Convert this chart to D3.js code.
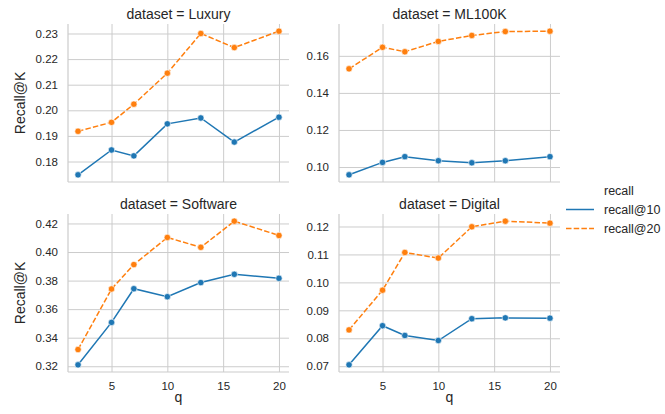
<!DOCTYPE html>
<html>
<head>
<meta charset="utf-8">
<script src="https://cdn.jsdelivr.net/npm/d3@7"></script>
<style>
  body { margin: 0; background: #fff; }
  text { font-family: "Liberation Sans", Arial, sans-serif; fill: #262626; }
</style>
</head>
<body>
<svg id="chart" width="665" height="414"></svg>
<script>
// x values (q)
const qValues = [2, 5, 7, 10, 13, 16, 20];
const xTicks = [5, 10, 15, 20];

const datasets = ['Luxury', 'ML100K', 'Software', 'Digital'];
const seriesNames = ['recall@10', 'recall@20'];

// recall values per dataset
const luxury10 = [0.1748, 0.1845, 0.1822, 0.1947, 0.1970, 0.1876, 0.1973];
const luxury20 = [0.1918, 0.1953, 0.2024, 0.2145, 0.2300, 0.2245, 0.2309];
const ml100k10 = [0.0958, 0.1025, 0.1056, 0.1034, 0.1023, 0.1034, 0.1056];
const ml100k20 = [0.1530, 0.1646, 0.1622, 0.1678, 0.1710, 0.1731, 0.1733];
const software10 = [0.3210, 0.3507, 0.3743, 0.3687, 0.3786, 0.3844, 0.3816];
const software20 = [0.3317, 0.3741, 0.3912, 0.4102, 0.4033, 0.4216, 0.4116];
const digital10 = [0.0705, 0.0845, 0.0810, 0.0792, 0.0870, 0.0873, 0.0872];
const digital20 = [0.0830, 0.0972, 0.1107, 0.1087, 0.1199, 0.1219, 0.1212];

// y tick labels per panel
const luxuryTicks = [0.18, 0.19, 0.20, 0.21, 0.22, 0.23];
const ml100kTicks = [0.10, 0.12, 0.14, 0.16];
const softwareTicks = [0.32, 0.34, 0.36, 0.38, 0.40, 0.42];
const digitalTicks = [0.07, 0.08, 0.09, 0.10, 0.11, 0.12];

const panelData = {
    'Luxury': { values: [luxury10, luxury20], ticks: luxuryTicks },
    'ML100K': { values: [ml100k10, ml100k20], ticks: ml100kTicks },
    'Software': { values: [software10, software20], ticks: softwareTicks },
    'Digital': { values: [digital10, digital20], ticks: digitalTicks }
};

const colors = { 'recall@10': '#1f77b4', 'recall@20': '#ff7f0e' };
const dashes = { 'recall@10': null, 'recall@20': '5.5,2.2' };

const svg = d3.select("#chart");
const gridColor = "#cccccc";

// panel layout
const colX = [68, 339];
const rowY = [24, 214];
const panelW = 221;
const panelH = 158;

function pad(ext) {
    const m = (ext[1] - ext[0]) * 0.05;
    return [ext[0] - m, ext[1] + m];
}

const xDomain = pad(d3.extent(qValues));

datasets.forEach((name, i) => {
    const col = i % 2, row = Math.floor(i / 2);
    const g = svg.append("g").attr("transform", `translate(${colX[col]},${rowY[row]})`);
    const info = panelData[name];

    const x = d3.scaleLinear().domain(xDomain).range([0, panelW]);
    const allVals = info.values.flat();
    const y = d3.scaleLinear().domain(pad(d3.extent(allVals))).range([panelH, 0]);

    // grid
    g.append("g")
        .call(d3.axisLeft(y).tickValues(info.ticks).tickSize(-panelW).tickFormat(""))
        .call(a => a.select(".domain").remove())
        .call(a => a.selectAll("line").attr("stroke", gridColor).attr("stroke-width", 1));
    g.append("g")
        .attr("transform", `translate(0,${panelH})`)
        .call(d3.axisBottom(x).tickValues(xTicks).tickSize(-panelH).tickFormat(""))
        .call(a => a.select(".domain").remove())
        .call(a => a.selectAll("line").attr("stroke", gridColor).attr("stroke-width", 1));

    // spines
    g.append("line").attr("x1", 0).attr("x2", 0).attr("y1", 0).attr("y2", panelH)
        .attr("stroke", gridColor).attr("stroke-width", 1.2);
    g.append("line").attr("x1", 0).attr("x2", panelW).attr("y1", panelH).attr("y2", panelH)
        .attr("stroke", gridColor).attr("stroke-width", 1.2);

    // y tick labels
    const yAxis = g.append("g")
        .call(d3.axisLeft(y).tickValues(info.ticks).tickSize(0).tickPadding(10).tickFormat(d3.format(".2f")));
    yAxis.select(".domain").remove();
    yAxis.selectAll("text").style("font-size", "11.5px").attr("fill", "#262626");

    // x tick labels only on bottom row
    if (row === 1) {
        const xAxis = g.append("g")
            .attr("transform", `translate(0,${panelH})`)
            .call(d3.axisBottom(x).tickValues(xTicks).tickSize(0).tickPadding(10));
        xAxis.select(".domain").remove();
        xAxis.selectAll("text").style("font-size", "11.5px").attr("fill", "#262626");

        g.append("text")
            .attr("x", panelW / 2)
            .attr("y", panelH + 30)
            .attr("text-anchor", "middle")
            .style("font-size", "14px")
            .text("q");
    }

    if (col === 0) {
        g.append("text")
            .attr("transform", `translate(${-43},${panelH / 2}) rotate(-90)`)
            .attr("text-anchor", "middle")
            .style("font-size", "14px")
            .text("Recall@K");
    }

    // title
    g.append("text")
        .attr("x", panelW / 2)
        .attr("y", -5)
        .attr("text-anchor", "middle")
        .style("font-size", "14px")
        .text(`dataset = ${name}`);

    // series
    seriesNames.forEach((s, si) => {
        const pts = qValues.map((q, k) => ({ q: q, v: info.values[si][k] }));
        g.append("path")
            .datum(pts)
            .attr("fill", "none")
            .attr("stroke", colors[s])
            .attr("stroke-width", 1.5)
            .attr("stroke-dasharray", dashes[s])
            .attr("d", d3.line().x(d => x(d.q)).y(d => y(d.v)));
        g.selectAll(null)
            .data(pts)
            .enter()
            .append("circle")
            .attr("cx", d => x(d.q))
            .attr("cy", d => y(d.v))
            .attr("r", 3.2)
            .attr("fill", colors[s])
            .attr("stroke", "#fff")
            .attr("stroke-width", 0.6);
    });
});

// legend
const legend = svg.append("g").attr("transform", "translate(566,0)");
legend.append("text").attr("x", 38).attr("y", 195).style("font-size", "12.5px").text("recall");
seriesNames.forEach((s, i) => {
    const ly = 209.5 + i * 19;
    legend.append("line")
        .attr("x1", 0).attr("x2", 28).attr("y1", ly).attr("y2", ly)
        .attr("stroke", colors[s]).attr("stroke-width", 1.5)
        .attr("stroke-dasharray", dashes[s]);
    legend.append("text").attr("x", 38).attr("y", ly + 4.5).style("font-size", "12.5px").text(s);
});
</script>
</body>
</html>
